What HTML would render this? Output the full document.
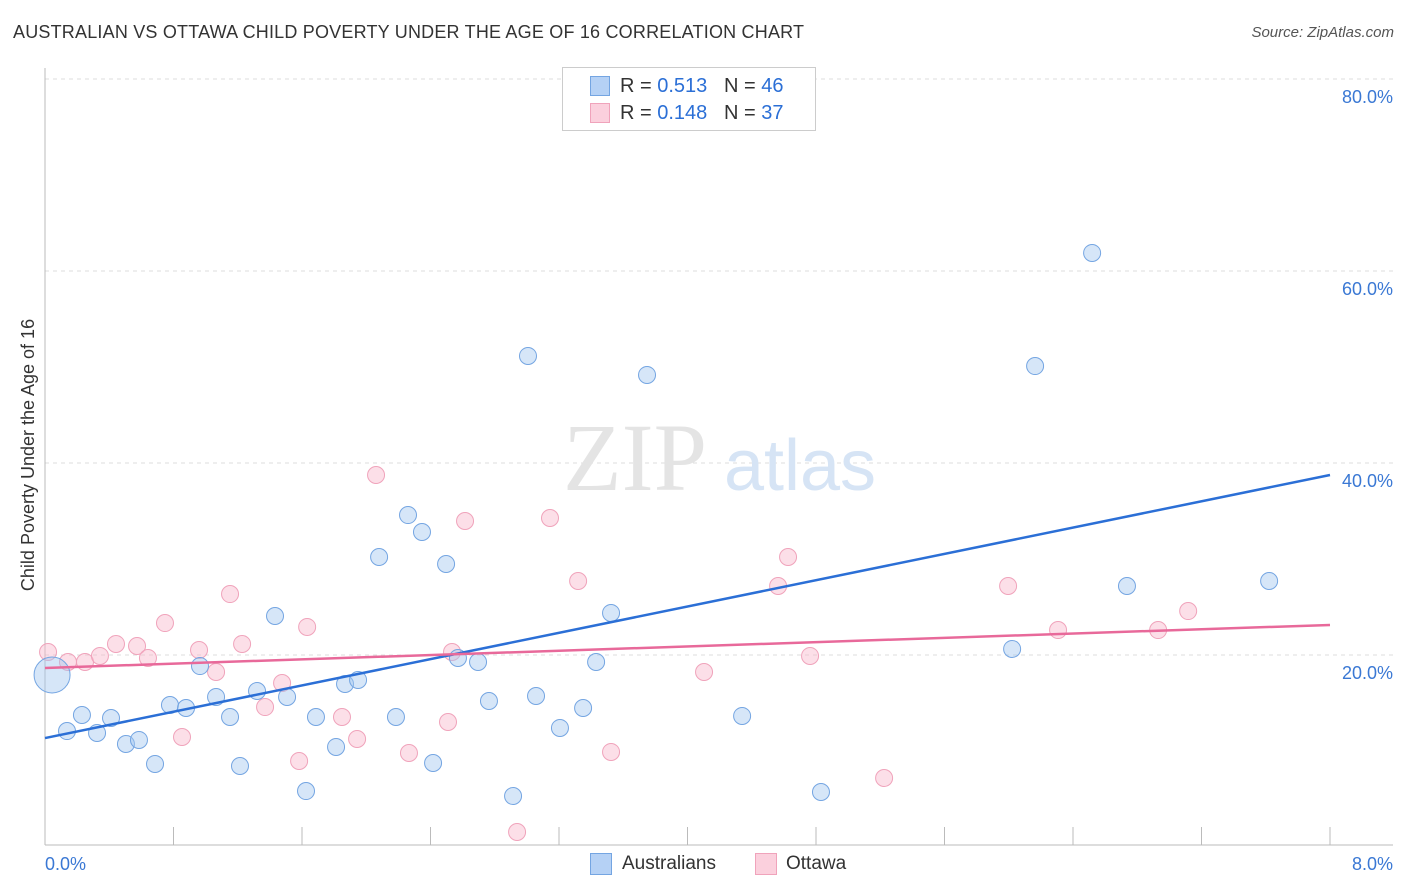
<!DOCTYPE html>
<html><head><meta charset="utf-8"><style>
body{margin:0;background:#fff;font-family:"Liberation Sans",sans-serif;}
#wrap{position:relative;width:1406px;height:892px;overflow:hidden;}
.t{position:absolute;white-space:nowrap;}
</style></head><body>
<div id="wrap">
<div class="t" style="left:13px;top:22px;font-size:18px;letter-spacing:0.2px;color:#333;">AUSTRALIAN VS OTTAWA CHILD POVERTY UNDER THE AGE OF 16 CORRELATION CHART</div>
<div class="t" style="right:12px;top:24px;font-size:15px;color:#555;font-style:italic;">Source: ZipAtlas.com</div>
<svg id="svg" width="1406" height="892" style="position:absolute;left:0;top:0"></svg>
</div>
<script>
const xTicks=[0,0.8,1.6,2.4,3.2,4.0,4.8,5.6,6.4,7.2,8.0];
const yTicks=[20,40,60,80];
const ausX=[.044,.137,.230,.324,.411,.504,.585,.685,.778,.878,.965,1.065,1.152,1.214,1.320,1.432,1.507,1.625,1.687,1.812,1.868,1.949,2.080,2.185,2.260,2.347,2.416,2.497,2.571,2.696,2.764,2.914,3.007,3.057,3.206,3.350,3.431,3.524,3.748,4.340,4.831,6.021,6.164,6.519,6.736,7.621];
const ausY=[17.92,12.08,13.75,11.88,13.44,10.73,11.15,8.65,14.79,14.48,18.85,15.63,13.54,8.44,16.25,24.06,15.63,5.83,13.54,10.42,16.98,17.40,30.21,13.54,34.58,32.81,8.75,29.48,19.69,19.27,15.21,5.31,51.15,15.73,12.40,14.48,19.27,24.38,49.17,13.65,5.73,20.63,50.10,61.88,27.19,27.71];
const ottX=[.019,.143,.249,.342,.442,.573,.641,.747,.853,.959,1.065,1.152,1.227,1.370,1.476,1.582,1.632,1.849,1.943,2.061,2.266,2.509,2.534,2.615,2.939,3.144,3.319,3.524,4.103,4.564,4.626,4.763,5.224,5.996,6.307,6.930,7.117];
const ottY=[20.31,19.27,19.27,19.90,21.15,20.94,19.69,23.33,11.46,20.52,18.23,26.35,21.15,14.58,17.08,8.96,22.92,13.54,11.25,38.75,9.79,13.02,20.31,33.96,1.56,34.27,27.71,9.90,18.23,27.19,30.21,19.90,7.19,27.19,22.60,22.60,24.58];
const ausLine=[11.35,38.75];
const ottLine=[18.65,23.13];
const X=v=>45+v/8*1285, Y=v=>847-v*9.6;
const svg=document.getElementById('svg');const NS='http://www.w3.org/2000/svg';
function mk(tag,a,parent){const e=document.createElementNS(NS,tag);for(const k in a)e.setAttribute(k,a[k]);(parent||svg).appendChild(e);return e;}
yTicks.forEach(v=>{
 const g=mk('line',{x1:45,x2:1393,y1:Y(v),y2:Y(v),stroke:'#ddd','stroke-dasharray':'4,4'});
 
 
 const t=mk('text',{x:1393,y:Y(v)+24,'text-anchor':'end','font-size':18,fill:'#3a78d4','font-family':'Liberation Sans'});t.textContent=v.toFixed(1)+'%';
 
 
});
const ax=mk('line',{x1:45,x2:45,y1:68,y2:845,stroke:'#bbb'});


const bx=mk('line',{x1:45,x2:1393,y1:845,y2:845,stroke:'#bbb'});


xTicks.forEach(v=>{const l=mk('line',{x1:X(v),x2:X(v),y1:827,y2:845,stroke:'#bbb'});
 
 });
[[0,'start',45],[8,'end',1393]].forEach(([v,a,px])=>{const t=mk('text',{x:px,y:870,'text-anchor':a,'font-size':18,fill:'#3a78d4','font-family':'Liberation Sans'});t.textContent=v.toFixed(1)+'%';
 
 });
const yl=mk('text',{x:0,y:0,transform:'translate(34,455) rotate(-90)','text-anchor':'middle','font-size':18,fill:'#333','font-family':'Liberation Sans'});yl.textContent='Child Poverty Under the Age of 16';


const w1=mk('text',{x:635,y:490,'text-anchor':'middle','font-size':96,fill:'#e4e4e4','font-family':'Liberation Serif'});w1.textContent='ZIP';


const w2=mk('text',{x:800,y:490,'text-anchor':'middle','font-size':72,fill:'#d6e4f5','font-family':'Liberation Sans'});w2.textContent='atlas';


ottX.forEach((x,i)=>{const c=mk('circle',{cx:X(x),cy:Y(ottY[i]),r:8.5,fill:'rgba(248,185,205,0.45)',stroke:'#f0a3bb','stroke-width':1});
 
 });
ausX.forEach((x,i)=>{const c=mk('circle',{cx:X(x),cy:Y(ausY[i]),r:i==0?18:8.5,fill:'rgba(165,200,240,0.45)',stroke:'#74a5e2','stroke-width':1});
 
 });
const l1=mk('line',{x1:X(0),x2:X(8),y1:Y(ausLine[0]),y2:Y(ausLine[1]),stroke:'#2b6fd6','stroke-width':2.5});


const l2=mk('line',{x1:X(0),x2:X(8),y1:Y(ottLine[0]),y2:Y(ottLine[1]),stroke:'#e8699a','stroke-width':2.5});


</script>
<div style="position:absolute;left:562px;top:67px;width:252px;height:62px;border:1px solid #ccc;background:#fff;font-size:20px;">
 <div style="position:absolute;left:27px;top:8px;width:18px;height:18px;background:#b5d1f5;border:1px solid #74a5e2;"></div>
 <div class="t" style="left:57px;top:7px;color:#333;">R = <span style="color:#2b6fd6">0.513</span>&nbsp;&nbsp;&nbsp;N = <span style="color:#2b6fd6">46</span></div>
 <div style="position:absolute;left:27px;top:35px;width:18px;height:18px;background:#fbd0dd;border:1px solid #f0a3bb;"></div>
 <div class="t" style="left:57px;top:34px;color:#333;">R = <span style="color:#2b6fd6">0.148</span>&nbsp;&nbsp;&nbsp;N = <span style="color:#2b6fd6">37</span></div>
</div>
<div style="position:absolute;left:590px;top:853px;width:20px;height:20px;background:#b5d1f5;border:1px solid #74a5e2;"></div>
<div class="t" style="left:622px;top:853px;font-size:19px;color:#333;">Australians</div>
<div style="position:absolute;left:755px;top:853px;width:20px;height:20px;background:#fbd0dd;border:1px solid #f0a3bb;"></div>
<div class="t" style="left:786px;top:853px;font-size:19px;color:#333;">Ottawa</div>
</body></html>
